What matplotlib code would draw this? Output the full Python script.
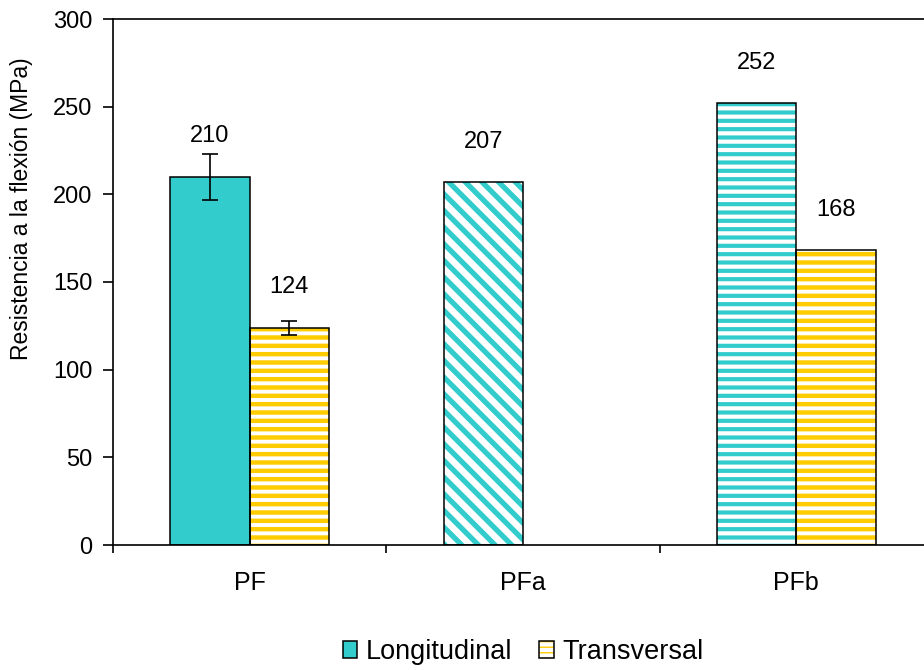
import numpy as np
import matplotlib
matplotlib.use("Agg")
import matplotlib.pyplot as plt
from matplotlib.patches import Patch
from matplotlib.legend_handler import HandlerTuple

plt.rcParams["font.family"] = ["Liberation Sans", "DejaVu Sans"]

# Flexural strength by material and fibre orientation
categories = ["PF", "PFa", "PFb"]
long_vals = [210, 207, 252]
long_err = [13, 0, 0]
trans_vals = [124, np.nan, 168]
trans_err = [4, 0, 0]
series_names = ["Longitudinal", "Transversal"]

TEAL = "#33CCCC"
YELLOW = "#FFCC00"
long_hatch = ["", "\\\\", "--"]
trans_hatch = ["--", "", "--"]

fig = plt.figure(figsize=(9.24, 6.70), dpi=100)
ax = fig.add_axes([113 / 924, 125 / 670, 820 / 924, 526 / 670])

x = np.arange(len(categories))
w = 0.29


def hatched_bar(xpos, height, hatch, color, hlw):
    if np.isnan(height):
        return
    if hatch:
        with plt.rc_context({"hatch.linewidth": hlw}):
            b = ax.bar(xpos, height, w, align="edge", facecolor="white",
                       edgecolor=color, hatch=hatch, linewidth=0, zorder=2)
        for p in b:
            if hasattr(p, "set_hatch_linewidth"):
                p.set_hatch_linewidth(hlw)
    else:
        ax.bar(xpos, height, w, align="edge", facecolor=color,
               edgecolor="none", linewidth=0, zorder=2)
    ax.bar(xpos, height, w, align="edge", fill=False, edgecolor="black",
           linewidth=1.1, zorder=3)


for i in range(len(categories)):
    hlw = 3.8 if "\\" in long_hatch[i] else 3.0
    hatched_bar(x[i] - w, long_vals[i], long_hatch[i], TEAL, hlw)
    hatched_bar(x[i], trans_vals[i], trans_hatch[i], YELLOW, 3.2)

# Error bars
for i in range(len(categories)):
    if long_err[i] > 0:
        ax.errorbar(x[i] - w / 2, long_vals[i], yerr=long_err[i], fmt="none",
                    ecolor="black", elinewidth=1.2, capsize=6, capthick=1.2, zorder=4)
    if trans_err[i] > 0 and not np.isnan(trans_vals[i]):
        ax.errorbar(x[i] + w / 2, trans_vals[i], yerr=trans_err[i], fmt="none",
                    ecolor="black", elinewidth=1.2, capsize=6, capthick=1.2, zorder=4)

# Value labels
for i in range(len(categories)):
    ax.text(x[i] - w / 2, long_vals[i] + 23, f"{long_vals[i]:.0f}",
            ha="center", va="center", fontsize=17)
    if not np.isnan(trans_vals[i]):
        ax.text(x[i] + w / 2, trans_vals[i] + 23, f"{trans_vals[i]:.0f}",
                ha="center", va="center", fontsize=17)

ax.set_xlim(-0.5, 2.5)
ax.set_ylim(0, 300)
ax.set_yticks(np.arange(0, 301, 50))
ax.set_xticks(x)
ax.set_xticklabels(categories)
ax.set_xticks([-0.5, 0.5, 1.5], minor=True)
ax.tick_params(axis="x", which="major", length=0, pad=19, labelsize=18)
ax.tick_params(axis="x", which="minor", length=6, width=1.2, direction="out")
ax.tick_params(axis="y", length=7, width=1.2, direction="out", labelsize=17, pad=8)
for s in ax.spines.values():
    s.set_linewidth(1.2)
ax.set_ylabel("Resistencia a la flexión (MPa)", fontsize=16.5)
ax.yaxis.set_label_coords(-0.098, 0.64)

# Legend with a striped handle for the transversal series
h_long = Patch(facecolor=TEAL, edgecolor="black", linewidth=1.1)
with plt.rc_context({"hatch.linewidth": 2.2}):
    h_tr_fill = Patch(facecolor="white", edgecolor=YELLOW, hatch="---", linewidth=0)
h_tr_edge = Patch(fill=False, edgecolor="black", linewidth=1.1)
ax.legend([h_long, (h_tr_fill, h_tr_edge)], series_names,
          handler_map={tuple: HandlerTuple(ndivide=1, pad=0)},
          loc="center", bbox_to_anchor=(0.5, (670 - 652 - 125) / 526),
          ncol=2, frameon=False, fontsize=19.5, handlelength=0.55,
          handleheight=0.55, handletextpad=0.3, columnspacing=1.0,
          borderaxespad=0)

fig.savefig("out.png", dpi=100)
